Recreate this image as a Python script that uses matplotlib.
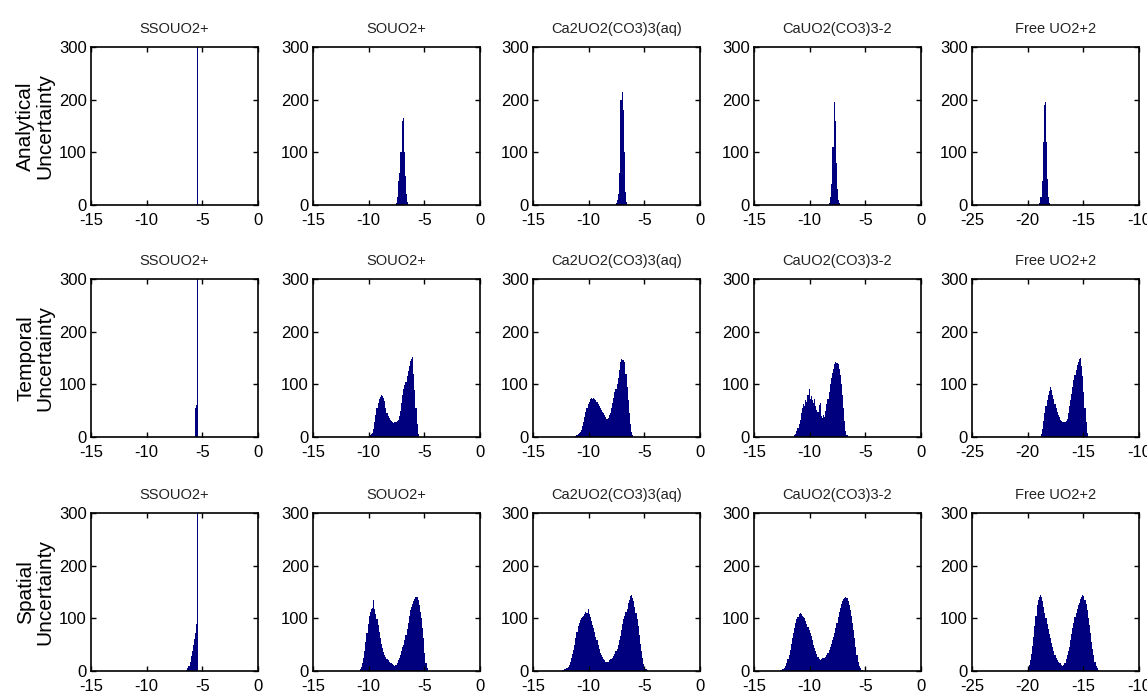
import matplotlib
matplotlib.use("Agg")
import matplotlib.pyplot as plt
import numpy as np

# ---------------------------------------------------------------------------
# Data: histogram counts of log10 activity for each uranyl species,
# for three sources of uncertainty.  Each histogram is stored as the left
# edge of its first bin plus a list of bin counts (bin width BIN_WIDTH).
# ---------------------------------------------------------------------------
species = ["SSOUO2+", "SOUO2+", "Ca2UO2(CO3)3(aq)", "CaUO2(CO3)3-2", "Free UO2+2"]
row_labels = ["Analytical\nUncertainty", "Temporal\nUncertainty", "Spatial\nUncertainty"]
x_limits = [(-15, 0), (-15, 0), (-15, 0), (-15, 0), (-25, -10)]
x_ticks = [[-15, -10, -5, 0], [-15, -10, -5, 0], [-15, -10, -5, 0],
           [-15, -10, -5, 0], [-25, -20, -15, -10]]
y_ticks = [0, 100, 200, 300]
BIN_WIDTH = 0.1

# --- Analytical uncertainty ---
ana_ssouo2_start = -5.45
ana_ssouo2_counts = [1000]
ana_souo2_start = -7.55
ana_souo2_counts = [3, 15, 45, 60, 100, 160, 165, 100, 55, 20, 5]
ana_ca2_start = -7.55
ana_ca2_counts = [3, 10, 20, 60, 200, 215, 180, 100, 25, 5]
ana_ca1_start = -8.25
ana_ca1_counts = [4, 15, 40, 110, 195, 160, 80, 30, 10, 3]
ana_free_start = -18.95
ana_free_counts = [3, 15, 45, 120, 190, 195, 120, 50, 15, 4]

# --- Temporal uncertainty ---
tem_ssouo2_start = -5.65
tem_ssouo2_counts = [55, 60, 1000]
tem_souo2_start = -10.0
tem_souo2_counts = [2, 3, 5, 8, 15, 28, 42, 55, 65, 72, 76, 80, 78, 74, 68, 55,
                    45, 40, 36, 33, 30, 28, 27, 28, 28, 30, 33, 40, 50, 65, 80,
                    92, 98, 105, 115, 125, 135, 145, 148, 152, 120, 90, 55, 25, 5]
tem_ca2_start = -11.2
tem_ca2_counts = [2, 4, 6, 8, 10, 14, 20, 28, 38, 48, 56, 62, 66, 72, 75, 73,
                  74, 72, 70, 66, 62, 58, 55, 52, 48, 45, 42, 38, 35, 37, 42,
                  46, 55, 65, 75, 85, 92, 100, 112, 128, 142, 148, 147, 146,
                  142, 120, 95, 70, 45, 25, 10, 4]
tem_ca1_start = -11.4
tem_ca1_counts = [3, 6, 12, 18, 25, 32, 45, 55, 62, 58, 70, 66, 80, 92, 72, 78,
                  70, 64, 72, 58, 52, 48, 60, 65, 40, 36, 42, 38, 50, 62, 72,
                  85, 100, 112, 122, 130, 138, 142, 140, 138, 130, 118, 100,
                  80, 55, 30, 12, 4]
tem_free_start = -18.8
tem_free_counts = [5, 15, 30, 45, 58, 70, 80, 88, 95, 90, 80, 72, 62, 55, 48,
                   42, 38, 33, 30, 29, 28, 28, 30, 35, 45, 58, 70, 82, 95, 108,
                   118, 128, 137, 142, 148, 150, 135, 115, 85, 55, 28, 8]

# --- Spatial uncertainty ---
spa_ssouo2_start = -6.45
spa_ssouo2_counts = [2, 5, 10, 18, 28, 38, 50, 60, 72, 90, 1000]
spa_souo2_start = -10.8
spa_souo2_counts = [3, 8, 15, 25, 38, 55, 72, 90, 105, 112, 118, 120, 135, 118,
                    108, 98, 88, 75, 62, 52, 44, 36, 30, 26, 22, 20, 18, 16, 15,
                    14, 12, 10, 12, 15, 20, 25, 30, 38, 45, 50, 58, 68, 80, 92,
                    105, 115, 122, 128, 132, 136, 140, 140, 135, 125, 112, 100,
                    82, 62, 35, 15, 5]
spa_ca2_start = -12.4
spa_ca2_counts = [1, 2, 3, 4, 6, 8, 12, 18, 24, 32, 40, 50, 62, 75, 86, 92, 96,
                  100, 102, 105, 108, 112, 110, 118, 108, 102, 95, 88, 82, 75,
                  65, 58, 50, 42, 35, 30, 26, 22, 20, 18, 17, 18, 20, 22, 22,
                  25, 28, 32, 38, 42, 50, 58, 66, 78, 90, 98, 105, 112, 118,
                  130, 135, 142, 145, 138, 132, 122, 110, 98, 85, 68, 52, 38,
                  25, 14, 8, 4, 2]
spa_ca1_start = -12.7
spa_ca1_counts = [1, 2, 3, 4, 6, 10, 15, 22, 30, 40, 52, 62, 72, 82, 92, 98,
                  102, 108, 110, 108, 105, 103, 100, 95, 90, 84, 78, 72, 66, 58,
                  50, 44, 38, 32, 26, 22, 20, 22, 24, 25, 24, 26, 30, 35, 40,
                  46, 52, 58, 65, 72, 82, 92, 102, 112, 120, 128, 132, 136, 138,
                  140, 138, 132, 125, 115, 105, 92, 78, 62, 45, 30, 18, 10, 5,
                  2, 1]
spa_free_start = -20.1
spa_free_counts = [2, 6, 12, 20, 32, 48, 65, 85, 105, 125, 135, 140, 145, 140,
                   133, 122, 110, 100, 90, 80, 70, 62, 54, 46, 38, 30, 25, 20,
                   18, 15, 16, 12, 10, 12, 16, 22, 30, 38, 46, 58, 70, 82, 92,
                   102, 110, 118, 125, 130, 136, 140, 145, 142, 135, 128, 115,
                   100, 88, 72, 55, 42, 30, 18, 10, 5, 2]

histograms = [
    [(ana_ssouo2_start, ana_ssouo2_counts), (ana_souo2_start, ana_souo2_counts),
     (ana_ca2_start, ana_ca2_counts), (ana_ca1_start, ana_ca1_counts),
     (ana_free_start, ana_free_counts)],
    [(tem_ssouo2_start, tem_ssouo2_counts), (tem_souo2_start, tem_souo2_counts),
     (tem_ca2_start, tem_ca2_counts), (tem_ca1_start, tem_ca1_counts),
     (tem_free_start, tem_free_counts)],
    [(spa_ssouo2_start, spa_ssouo2_counts), (spa_souo2_start, spa_souo2_counts),
     (spa_ca2_start, spa_ca2_counts), (spa_ca1_start, spa_ca1_counts),
     (spa_free_start, spa_free_counts)],
]

# ---------------------------------------------------------------------------
# Layout (pixel based, figure is 1147 x 698)
# ---------------------------------------------------------------------------
FIG_W, FIG_H = 1147, 698
col_left = [91, 313, 533, 754, 972]
row_top = [47, 279, 513]
AX_W, AX_H = 167, 158
BAR_COLOR = "#00007f"
FONT = "Liberation Sans"

fig = plt.figure(figsize=(FIG_W / 100, FIG_H / 100), dpi=100)
fig.patch.set_facecolor("white")

for r in range(3):
    for c in range(5):
        rect = [col_left[c] / FIG_W, 1 - (row_top[r] + AX_H) / FIG_H,
                AX_W / FIG_W, AX_H / FIG_H]
        ax = fig.add_axes(rect)
        start, counts = histograms[r][c]
        counts = np.asarray(counts, dtype=float)
        edges = start + BIN_WIDTH * np.arange(len(counts) + 1)
        ax.stairs(counts, edges, fill=True, color=BAR_COLOR, linewidth=0)

        ax.set_xlim(*x_limits[c])
        ax.set_ylim(0, 300)
        ax.set_xticks(x_ticks[c])
        ax.set_yticks(y_ticks)
        ax.set_xticklabels([str(t) for t in x_ticks[c]], family=FONT, fontsize=12)
        ax.set_yticklabels([str(t) for t in y_ticks], family=FONT, fontsize=12)
        ax.tick_params(direction="in", length=3.5, width=1, top=True, right=True,
                       color="black")
        ax.tick_params(axis="x", pad=6)
        ax.tick_params(axis="y", pad=3)
        for sp in ax.spines.values():
            sp.set_linewidth(1.2)
            sp.set_color("black")
        ax.set_title(species[c], family=FONT, fontsize=10.5, pad=10, color="#222222")

# Row labels on the left
for r in range(3):
    yc = 1 - (row_top[r] + AX_H / 2) / FIG_H
    fig.text(35 / FIG_W, yc, row_labels[r], rotation=90, ha="center", va="center",
             multialignment="center", fontsize=15, family=FONT,
             linespacing=1.0)

fig.savefig("out.png", dpi=100, facecolor="white")
